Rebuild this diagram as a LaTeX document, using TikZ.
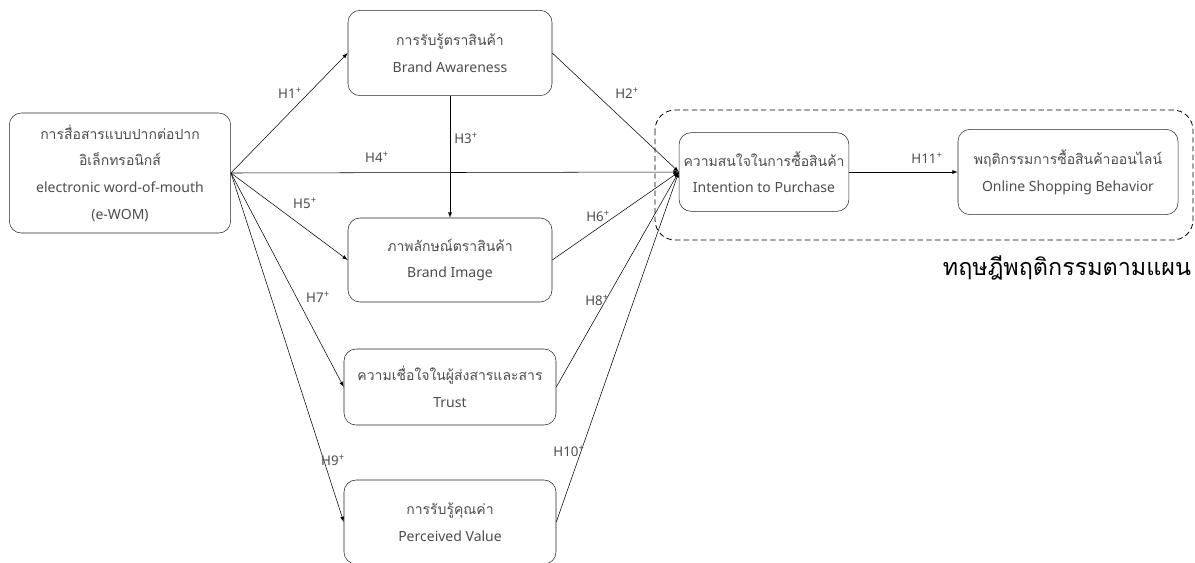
\documentclass[tikz,border=0pt]{standalone}
\usepackage{fontspec}
\setmainfont{Noto Sans}
\newfontfamily\thai[Script=Thai]{Loma}
\begin{document}
\begin{tikzpicture}[x=0.75pt,y=-0.75pt,>=latex,
    box/.style={draw, black!85, rounded corners=9pt, align=center, font=\fontsize{10.5}{20}\selectfont, text=black!70},
    hyp/.style={font=\fontsize{10}{12}\selectfont, text=black!70, inner sep=1pt}]
  \useasboundingbox (0,0) rectangle (1195,562);

  % boxes
  \node [box, minimum width=166pt, minimum height=90pt](ewom) at (120,173)
    {{\thai การสื่อสารแบบปากต่อปาก}\\{\thai อิเล็กทรอนิกส์}\\electronic word-of-mouth\\(e-WOM)};
  \node [box, minimum width=153pt, minimum height=64pt](ba) at (450,53)
    {{\thai การรับรู้ตราสินค้า}\\Brand Awareness};
  \node [box, minimum width=153pt, minimum height=63pt](bi) at (450,260)
    {{\thai ภาพลักษณ์ตราสินค้า}\\Brand Image};
  \node [box, minimum width=159pt, minimum height=57pt](tr) at (450,387)
    {{\thai ความเชื่อใจในผู้ส่งสารและสาร}\\Trust};
  \node [box, minimum width=159pt, minimum height=63pt](pv) at (450,522)
    {{\thai การรับรู้คุณค่า}\\Perceived Value};
  \node [box, minimum width=125pt, minimum height=59pt](ip) at (764,172)
    {{\thai ความสนใจในการซื้อสินค้า}\\Intention to Purchase};
  \node [box, minimum width=165pt, minimum height=64pt](osb) at (1068,172)
    {{\thai พฤติกรรมการซื้อสินค้าออนไลน์}\\Online Shopping Behavior};

  % planned behaviour frame
  \draw [line width=0.6pt, dash pattern=on 4pt off 2.5pt, rounded corners=15pt] (655,110) rectangle (1193,240);
  \node [font=\fontsize{17.5}{20}\thai, text=black](tpb) at (1067,268) {ทฤษฎีพฤติกรรมตามแผน};

  % paths
  \draw [->] (ewom.east) -- (ba.west);
  \draw [->] (ewom.east) -- (bi.west);
  \draw [->] (ewom.east) -- (tr.west);
  \draw [->] (ewom.east) -- (pv.west);
  \draw [->] (ewom.east) -- (ip.west);
  \draw [->] (ba.south) -- (bi.north);
  \draw [->] (ba.east) -- (ip.west);
  \draw [->] (bi.east) -- (ip.west);
  \draw [->] (tr.east) -- (ip.west);
  \draw [->] (pv.east) -- (ip.west);
  \draw [->] (ip.east) -- (osb.west);

  % hypothesis labels
  \node [hyp](h1) at (290,93) {H1\textsuperscript{\textbf{+}}};
  \node [hyp](h2) at (627,93) {H2\textsuperscript{\textbf{+}}};
  \node [hyp](h3) at (466,138) {H3\textsuperscript{\textbf{+}}};
  \node [hyp](h4) at (377,157) {H4\textsuperscript{\textbf{+}}};
  \node [hyp](h5) at (305,203) {H5\textsuperscript{\textbf{+}}};
  \node [hyp](h6) at (598,216) {H6\textsuperscript{\textbf{+}}};
  \node [hyp](h7) at (318,297) {H7\textsuperscript{\textbf{+}}};
  \node [hyp](h8) at (597,300) {H8\textsuperscript{\textbf{+}}};
  \node [hyp](h9) at (333,460) {H9\textsuperscript{\textbf{+}}};
  \node [hyp](h10) at (569,451) {H10\textsuperscript{\textbf{+}}};
  \node [hyp](h11) at (927,158) {H11\textsuperscript{\textbf{+}}};
\end{tikzpicture}
\end{document}
